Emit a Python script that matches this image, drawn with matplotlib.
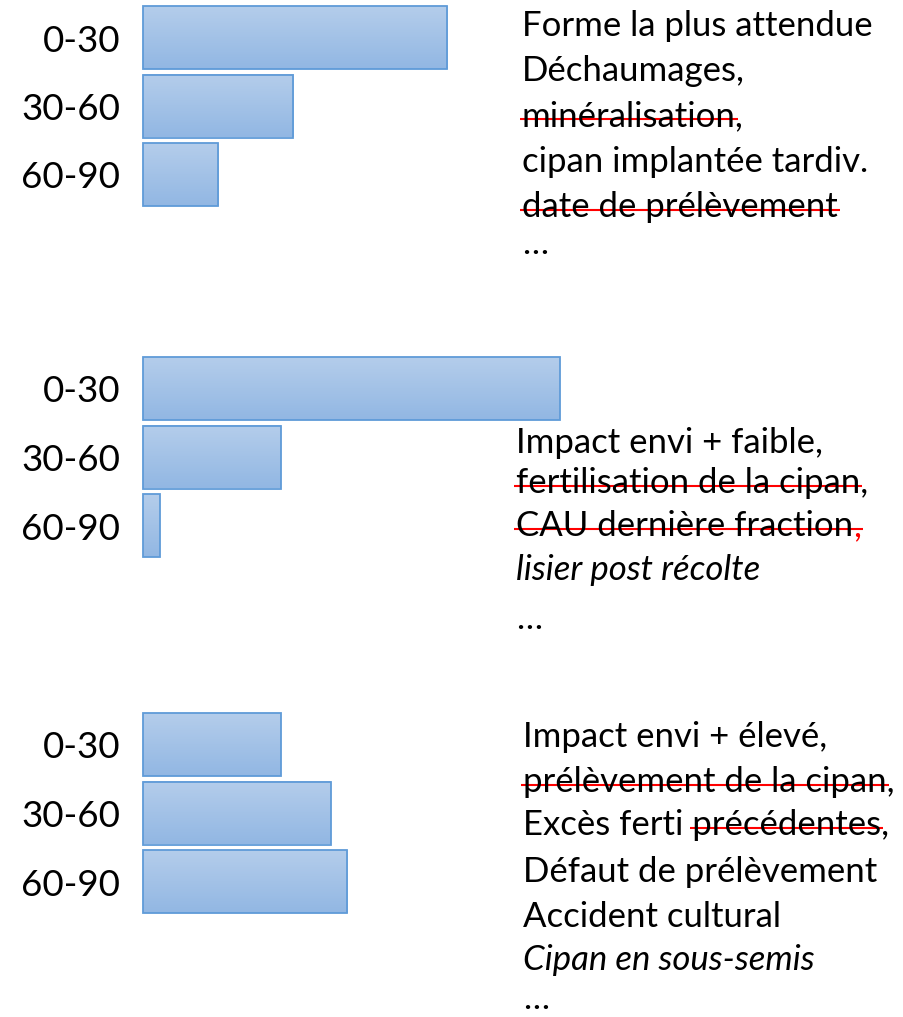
import numpy as np
import matplotlib
matplotlib.use("Agg")
import matplotlib.pyplot as plt
from matplotlib.colors import LinearSegmentedColormap
from matplotlib.font_manager import FontProperties

# --- data -------------------------------------------------------------
depths = ["0-30", "30-60", "60-90"]
group1 = [73, 36, 18]     # relative N quantity per layer
group2 = [100, 33, 4]
group3 = [33, 45, 49]

# (line text, struck part, italic, red tail)
notes1 = [
    ("Forme la plus attendue", None, False, None),
    ("Déchaumages,", None, False, None),
    ("minéralisation,", "minéralisation", False, None),
    ("cipan implantée tardiv.", None, False, None),
    ("date de prélèvement", "date de prélèvement", False, None),
    ("…", None, False, None),
]
notes2 = [
    ("Impact envi + faible,", None, False, None),
    ("fertilisation de la cipan,", "fertilisation de la cipan", False, None),
    ("CAU dernière fraction,", "CAU dernière fraction,", False, ","),
    ("lisier post récolte", None, True, None),
    ("…", None, False, None),
]
notes3 = [
    ("Impact envi + élevé,", None, False, None),
    ("prélèvement de la cipan,", "prélèvement de la cipan", False, None),
    ("Excès ferti précédentes,", "précédentes", False, None),
    ("Défaut de prélèvement", None, False, None),
    ("Accident cultural", None, False, None),
    ("Cipan en sous-semis", None, True, None),
    ("…", None, False, None),
]

# --- layout -----------------------------------------------------------
W, H = 904, 1017
PX_PER_UNIT = 4.17
BAR_X0 = 143
group_tops = [6, 357, 713]
bar_h = 63
bar_step = 68.5
FONT = "Lato"
FS = 25.0
LABEL_FS = 26.5

text_x = [522, 516, 523]
baselines = [
    [36, 81, 126, 172, 217, 254],
    [453, 493, 536, 580, 629],
    [747, 792, 835, 882, 927, 970, 1009],
]

fig = plt.figure(figsize=(W / 100, H / 100), dpi=100)
ax = fig.add_axes([0, 0, 1, 1])
ax.set_axis_off()

grad_cmap = LinearSegmentedColormap.from_list("bar", ["#b4cdeb", "#92b7e3"])
grad = np.linspace(0, 1, 64).reshape(-1, 1)

for top, values in zip(group_tops, [group1, group2, group3]):
    ys = [top + bar_h / 2 + i * bar_step for i in range(len(values))]
    bars = ax.barh(ys, values, height=bar_h, left=0, facecolor="none",
                   edgecolor="#5f9bd8", linewidth=1.3, zorder=3)
    for b in bars:
        x0, y0 = b.get_x(), b.get_y()
        ax.imshow(grad, cmap=grad_cmap, aspect="auto", zorder=2,
                  extent=(x0, x0 + b.get_width(), y0 + b.get_height(), y0))
    for y, lab in zip(ys, depths):
        ax.text(-23 / PX_PER_UNIT, y + 14, lab, ha="right", va="baseline",
                fontsize=LABEL_FS, family=FONT, color="black")

ax.set_xlim(-BAR_X0 / PX_PER_UNIT, (W - BAR_X0) / PX_PER_UNIT)
ax.set_ylim(H, 0)

# text overlay in pixel coordinates
at = fig.add_axes([0, 0, 1, 1])
at.set_axis_off()
at.set_xlim(0, W)
at.set_ylim(H, 0)
at.patch.set_alpha(0)

renderer = fig.canvas.get_renderer()


def width(s, italic):
    prop = FontProperties(family=FONT, size=FS, style="italic" if italic else "normal")
    w, _, _ = renderer.get_text_width_height_descent(s, prop, ismath=False)
    return w


for x0, ybs, notes in zip(text_x, baselines, [notes1, notes2, notes3]):
    for yb, (txt, strike, italic, red_tail) in zip(ybs, notes):
        style = "italic" if italic else "normal"
        main = txt[:-len(red_tail)] if red_tail else txt
        at.text(x0, yb, main, ha="left", va="baseline", fontsize=FS,
                family=FONT, style=style, color="black")
        if red_tail:
            xr = x0 + width(txt, italic) - width(red_tail, italic)
            at.text(xr, yb, red_tail, ha="left", va="baseline", fontsize=FS,
                    family=FONT, style=style, color="red")
        if strike:
            i = txt.index(strike)
            first = strike[0]
            xs = x0 + width(txt[:i] + first, italic) - width(first, italic)
            xe = x0 + width(txt[:i + len(strike)], italic)
            ys = yb - FS * 0.3
            at.plot([xs - 2, xe + 2], [ys, ys], color="red", lw=1.5,
                    solid_capstyle="butt")

fig.savefig("out.png", dpi=100)
